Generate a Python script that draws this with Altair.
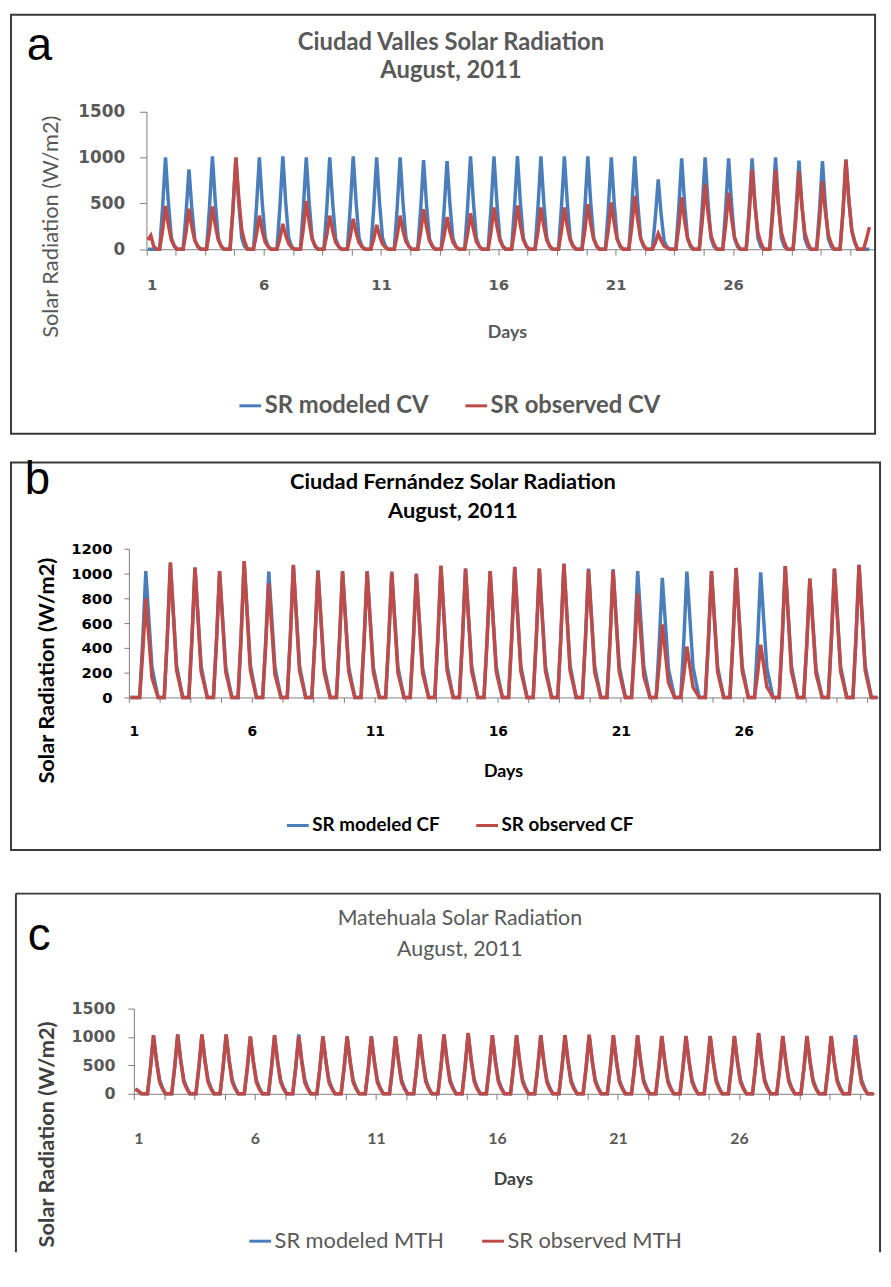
import altair as alt
import pandas as pd

BLUE = "#4A7EBB"
RED = "#BE4B48"
POINTS_PER_DAY = 8
DAY_LABELS = [1, 6, 11, 16, 21, 26]

# ---------------- Panel a : Ciudad Valles (3-hourly values, W/m2) ----------------
CV_MODELED = [
    0, 0, 0, 0,
    0, 450, 1000, 500, 120, 30, 0, 0,
    0, 390, 870, 435, 105, 25, 0, 0,
    0, 455, 1010, 505, 120, 30, 0, 0,
    0, 445, 990, 495, 120, 30, 0, 0,
    0, 450, 1000, 500, 120, 30, 0, 0,
    0, 455, 1010, 505, 120, 30, 0, 0,
    0, 450, 1000, 500, 120, 30, 0, 0,
    0, 445, 1000, 505, 115, 30, 0, 0,
    0, 455, 1010, 505, 120, 30, 0, 0,
    0, 450, 1000, 500, 120, 30, 0, 0,
    0, 450, 1000, 495, 120, 30, 0, 0,
    0, 435, 970, 485, 115, 30, 0, 0,
    0, 430, 960, 480, 115, 30, 0, 0,
    0, 455, 1010, 505, 120, 30, 0, 0,
    0, 455, 1010, 505, 120, 30, 0, 0,
    0, 460, 1015, 510, 120, 30, 0, 0,
    0, 455, 1010, 505, 120, 30, 0, 0,
    0, 455, 1010, 505, 120, 30, 0, 0,
    0, 455, 1010, 500, 120, 30, 0, 0,
    0, 450, 1000, 500, 120, 30, 0, 0,
    0, 455, 1010, 505, 120, 30, 0, 0,
    0, 340, 760, 380, 90, 25, 0, 0,
    0, 445, 990, 495, 120, 30, 0, 0,
    0, 450, 1000, 500, 120, 30, 0, 0,
    0, 445, 990, 495, 120, 30, 0, 0,
    0, 445, 990, 495, 120, 30, 0, 0,
    0, 450, 1000, 500, 120, 30, 0, 0,
    0, 435, 965, 480, 115, 30, 0, 0,
    0, 430, 960, 480, 115, 30, 0, 0,
    0, 410, 975, 535, 205, 80, 0, 0,
    0, 0, 0,
]
CV_OBSERVED = [
    100, 150, 30, 0,
    0, 200, 470, 260, 100, 40, 0, 0,
    0, 185, 440, 240, 90, 35, 0, 0,
    0, 195, 465, 255, 100, 35, 0, 0,
    0, 420, 1000, 550, 210, 80, 0, 0,
    0, 155, 365, 200, 75, 30, 0, 0,
    0, 115, 275, 150, 60, 20, 0, 0,
    0, 220, 525, 290, 110, 40, 0, 0,
    0, 155, 365, 200, 75, 30, 0, 0,
    0, 140, 330, 180, 70, 25, 0, 0,
    0, 110, 265, 145, 55, 20, 0, 0,
    0, 150, 365, 200, 80, 30, 0, 0,
    0, 180, 435, 240, 90, 35, 0, 0,
    0, 145, 350, 190, 75, 30, 0, 0,
    0, 165, 390, 215, 80, 30, 0, 0,
    0, 190, 455, 250, 95, 35, 0, 0,
    0, 200, 475, 260, 100, 40, 0, 0,
    0, 190, 455, 250, 95, 35, 0, 0,
    0, 195, 455, 245, 95, 35, 0, 0,
    0, 205, 490, 270, 105, 40, 0, 0,
    0, 215, 510, 280, 105, 40, 0, 0,
    0, 245, 580, 320, 120, 45, 0, 0,
    0, 70, 170, 95, 35, 15, 0, 0,
    0, 235, 565, 310, 120, 45, 0, 0,
    0, 295, 705, 390, 150, 55, 0, 0,
    0, 260, 615, 340, 130, 50, 0, 0,
    0, 365, 865, 475, 180, 70, 0, 0,
    0, 360, 865, 475, 180, 70, 0, 0,
    0, 355, 850, 470, 180, 70, 0, 0,
    0, 310, 740, 405, 155, 60, 0, 0,
    0, 410, 975, 535, 205, 80, 0, 0,
    0, 110, 240,
]

# ---------------- Panel b : Ciudad Fernandez ----------------
CF_MODELED = [
    0, 0, 0,
    0, 460, 1020, 630, 245, 120, 0, 0,
    0, 485, 1080, 670, 260, 130, 0, 0,
    0, 470, 1045, 650, 250, 125, 0, 0,
    0, 455, 1015, 630, 245, 120, 0, 0,
    0, 490, 1095, 680, 265, 130, 0, 0,
    0, 455, 1015, 630, 245, 120, 0, 0,
    0, 480, 1065, 660, 255, 130, 0, 0,
    0, 460, 1025, 635, 245, 125, 0, 0,
    0, 460, 1020, 630, 245, 120, 0, 0,
    0, 460, 1020, 630, 245, 120, 0, 0,
    0, 455, 1015, 630, 245, 120, 0, 0,
    0, 450, 1000, 620, 240, 120, 0, 0,
    0, 475, 1060, 655, 255, 125, 0, 0,
    0, 470, 1040, 645, 250, 125, 0, 0,
    0, 460, 1020, 630, 245, 120, 0, 0,
    0, 470, 1050, 650, 250, 125, 0, 0,
    0, 470, 1040, 645, 250, 125, 0, 0,
    0, 485, 1075, 665, 260, 130, 0, 0,
    0, 470, 1040, 645, 250, 125, 0, 0,
    0, 465, 1035, 640, 250, 125, 0, 0,
    0, 460, 1020, 630, 245, 120, 0, 0,
    0, 435, 965, 600, 230, 115, 0, 0,
    0, 455, 1015, 630, 245, 120, 0, 0,
    0, 460, 1020, 630, 245, 120, 0, 0,
    0, 470, 1045, 650, 250, 125, 0, 0,
    0, 455, 1010, 625, 240, 120, 0, 0,
    0, 475, 1060, 655, 255, 125, 0, 0,
    0, 430, 960, 595, 230, 115, 0, 0,
    0, 470, 1040, 645, 250, 125, 0, 0,
    0, 480, 1070, 665, 255, 130, 0, 0,
    0,
]
CF_OBSERVED = [
    0, 0, 0,
    0, 360, 800, 480, 160, 80, 0, 0,
    0, 490, 1090, 655, 220, 110, 0, 0,
    0, 470, 1050, 630, 210, 105, 0, 0,
    0, 460, 1020, 610, 205, 100, 0, 0,
    0, 495, 1100, 660, 220, 110, 0, 0,
    0, 415, 920, 550, 185, 90, 0, 0,
    0, 480, 1070, 640, 215, 105, 0, 0,
    0, 460, 1020, 610, 205, 100, 0, 0,
    0, 455, 1015, 610, 205, 100, 0, 0,
    0, 455, 1015, 610, 205, 100, 0, 0,
    0, 455, 1010, 605, 200, 100, 0, 0,
    0, 450, 995, 595, 200, 100, 0, 0,
    0, 480, 1065, 640, 215, 105, 0, 0,
    0, 470, 1040, 625, 210, 105, 0, 0,
    0, 460, 1020, 610, 205, 100, 0, 0,
    0, 475, 1055, 635, 210, 105, 0, 0,
    0, 470, 1040, 625, 210, 105, 0, 0,
    0, 485, 1080, 650, 215, 110, 0, 0,
    0, 465, 1030, 620, 205, 105, 0, 0,
    0, 460, 1025, 615, 205, 100, 0, 0,
    0, 380, 840, 505, 170, 85, 0, 0,
    0, 265, 590, 355, 120, 60, 0, 0,
    0, 185, 410, 245, 80, 40, 0, 0,
    0, 460, 1020, 610, 205, 100, 0, 0,
    0, 470, 1045, 625, 210, 105, 0, 0,
    0, 190, 425, 255, 85, 45, 0, 0,
    0, 475, 1060, 635, 210, 105, 0, 0,
    0, 430, 960, 575, 190, 95, 0, 0,
    0, 470, 1040, 625, 210, 105, 0, 0,
    0, 480, 1070, 640, 215, 105, 0, 0,
    0,
]

# ---------------- Panel c : Matehuala ----------------
MTH_MODELED = [
    80, 50, 0, 0,
    0, 460, 1020, 580, 245, 100, 0, 0,
    0, 470, 1040, 595, 250, 105, 0, 0,
    0, 470, 1040, 595, 250, 105, 0, 0,
    0, 470, 1040, 595, 250, 105, 0, 0,
    0, 450, 1005, 575, 240, 100, 0, 0,
    0, 460, 1025, 585, 245, 105, 0, 0,
    0, 470, 1045, 595, 250, 105, 0, 0,
    0, 455, 1010, 575, 240, 100, 0, 0,
    0, 455, 1010, 575, 240, 100, 0, 0,
    0, 455, 1010, 575, 240, 100, 0, 0,
    0, 455, 1010, 575, 240, 100, 0, 0,
    0, 470, 1040, 595, 250, 105, 0, 0,
    0, 470, 1040, 595, 250, 105, 0, 0,
    0, 480, 1065, 605, 255, 105, 0, 0,
    0, 460, 1025, 585, 245, 105, 0, 0,
    0, 460, 1025, 585, 245, 105, 0, 0,
    0, 460, 1025, 585, 245, 105, 0, 0,
    0, 460, 1025, 585, 245, 105, 0, 0,
    0, 465, 1035, 590, 250, 105, 0, 0,
    0, 460, 1025, 585, 245, 105, 0, 0,
    0, 460, 1025, 585, 245, 105, 0, 0,
    0, 455, 1015, 580, 245, 100, 0, 0,
    0, 455, 1015, 580, 245, 100, 0, 0,
    0, 455, 1015, 580, 245, 100, 0, 0,
    0, 455, 1015, 580, 245, 100, 0, 0,
    0, 480, 1065, 605, 255, 105, 0, 0,
    0, 455, 1015, 580, 245, 100, 0, 0,
    0, 455, 1015, 580, 245, 100, 0, 0,
    0, 455, 1015, 580, 245, 100, 0, 0,
    0, 465, 1030, 585, 245, 105, 0, 0,
    0,
]
MTH_OBSERVED = [
    85, 45, 0, 0,
    0, 465, 1030, 565, 205, 80, 0, 0,
    0, 470, 1045, 575, 210, 85, 0, 0,
    0, 470, 1045, 575, 210, 85, 0, 0,
    0, 470, 1045, 575, 210, 85, 0, 0,
    0, 455, 1010, 555, 200, 80, 0, 0,
    0, 465, 1030, 565, 205, 80, 0, 0,
    0, 455, 1010, 555, 200, 80, 0, 0,
    0, 455, 1010, 555, 200, 80, 0, 0,
    0, 455, 1010, 555, 200, 80, 0, 0,
    0, 455, 1010, 555, 200, 80, 0, 0,
    0, 455, 1010, 555, 200, 80, 0, 0,
    0, 470, 1045, 575, 210, 85, 0, 0,
    0, 470, 1045, 575, 210, 85, 0, 0,
    0, 480, 1070, 590, 215, 85, 0, 0,
    0, 465, 1030, 565, 205, 80, 0, 0,
    0, 465, 1030, 565, 205, 80, 0, 0,
    0, 465, 1030, 565, 205, 80, 0, 0,
    0, 465, 1030, 565, 205, 80, 0, 0,
    0, 470, 1040, 570, 210, 85, 0, 0,
    0, 465, 1030, 565, 205, 80, 0, 0,
    0, 465, 1030, 565, 205, 80, 0, 0,
    0, 460, 1020, 560, 205, 80, 0, 0,
    0, 460, 1020, 560, 205, 80, 0, 0,
    0, 460, 1020, 560, 205, 80, 0, 0,
    0, 460, 1020, 560, 205, 80, 0, 0,
    0, 480, 1070, 590, 215, 85, 0, 0,
    0, 460, 1020, 560, 205, 80, 0, 0,
    0, 460, 1020, 560, 205, 80, 0, 0,
    0, 460, 1020, 560, 205, 80, 0, 0,
    0, 445, 985, 540, 195, 80, 0, 0,
    0,
]

TOTAL_W = 883
TOTAL_H = 1250
ONE = pd.DataFrame({"k": [0]})
FRAME_COLOR = "#3a3a3a"
AXIS_COLOR = "#808080"


def series_frame(values, name):
    return pd.DataFrame({
        "pos": [i + 0.5 for i in range(len(values))],
        "value": values,
        "series": [name] * len(values),
    })


def day_label_expr():
    parts = []
    for d in DAY_LABELS:
        parts.append("datum.value == %d ? '%d' : " % ((d - 1) * POINTS_PER_DAY, d))
    return "".join(parts) + "''"


def text(txt, x, y, size, color, font="Lato", weight="normal", angle=0,
         align="center", baseline="middle"):
    kw = dict(font=font, fontSize=size, color=color, fontWeight=weight,
              align=align, baseline=baseline)
    if angle:
        kw["angle"] = angle
    return alt.Chart(ONE).mark_text(**kw).encode(
        x=alt.value(x), y=alt.value(y), text=alt.value(txt))


def rule(x0, y0, x1=None, y1=None):
    enc = dict(x=alt.value(x0), y=alt.value(y0))
    if x1 is not None:
        enc["x2"] = alt.value(x1)
    if y1 is not None:
        enc["y2"] = alt.value(y1)
    return alt.Chart(ONE).mark_rule(stroke=FRAME_COLOR, strokeWidth=2).encode(**enc)


def box(x0, x1, y0, y1):
    return alt.Chart(ONE).mark_rect(filled=False, stroke=FRAME_COLOR,
                                    strokeWidth=2).encode(
        x=alt.value(x0), x2=alt.value(x1), y=alt.value(y0), y2=alt.value(y1))


def panel(p):
    names = p["names"]
    x0, x1, yt, yb = p["plot"]
    color = alt.Color(
        "series:N",
        scale=alt.Scale(domain=names, range=[BLUE, RED]),
        legend=alt.Legend(
            orient="none", legendX=p["legx"], legendY=p["legy"],
            direction="horizontal", title=None, symbolType="stroke",
            symbolStrokeWidth=3, symbolSize=p["symsize"],
            labelFont="Lato", labelFontSize=p["legsize"],
            labelFontWeight=p["legweight"], labelColor=p["legcolor"],
            labelLimit=600, labelOffset=2, columnPadding=p["colpad"],
            padding=0),
    )
    n = p["n"]
    x = alt.X(
        "pos:Q",
        scale=alt.Scale(domain=[0, n], range=[x0, x1], nice=False, zero=False),
        axis=alt.Axis(
            orient="bottom", offset=yb - TOTAL_H,
            values=list(range(0, n + 1, 10)), labelExpr=day_label_expr(),
            tickSize=p["xtick"], labelPadding=p["xpad"], grid=False,
            domainColor=AXIS_COLOR, tickColor=AXIS_COLOR,
            labelFont=p["xfont"], labelFontSize=p["xsize"],
            labelFontWeight=p["xweight"], labelColor=p["numcolor"],
            labelOverlap=False, labelBaseline="top"),
        title=None,
    )
    y = alt.Y(
        "value:Q",
        scale=alt.Scale(domain=[0, p["ymax"]], range=[yb, yt], nice=False),
        axis=alt.Axis(
            orient="left", offset=-x0, format="d",
            values=list(range(0, p["ymax"] + 1, p["ystep"])),
            tickSize=p["ytick"], labelPadding=p["ypad"], grid=False,
            domainColor=AXIS_COLOR, tickColor=AXIS_COLOR,
            labelFont=p["yfont"], labelFontSize=p["ysize"],
            labelFontWeight=p["yweight"], labelColor=p["numcolor"]),
        title=None,
    )
    blue = alt.Chart(series_frame(p["modeled"], names[0])).mark_line(
        strokeWidth=3.5).encode(x=x, y=y, color=color)
    red = alt.Chart(series_frame(p["observed"], names[1])).mark_line(
        strokeWidth=3.5).encode(x=x, y=y, color=color)
    lines = alt.layer(blue, red)

    deco = list(p["frame"])
    deco.append(text(p["letter"], p["letter_xy"][0], p["letter_xy"][1], 46,
                     "#000000", font="Liberation Sans", align="left",
                     baseline="alphabetic"))
    tx, ty1, ty2 = p["title_xy"]
    deco.append(text(p["title"][0], tx, ty1, p["title_size"], p["title_color"],
                     weight=p["title_weight"], baseline="alphabetic"))
    deco.append(text(p["title"][1], tx, ty2, p["title_size"], p["title_color"],
                     weight=p["title_weight"], baseline="alphabetic"))
    deco.append(text("Solar Radiation (W/m2)", p["ytitle_xy"][0],
                     p["ytitle_xy"][1], p["ytitle_size"], p["ytitle_color"],
                     weight=p["ytitle_weight"], angle=270))
    deco.append(text("Days", p["days_xy"][0], p["days_xy"][1],
                     p["days_size"], p["days_color"], weight="bold"))
    return lines, deco


PA = dict(
    names=["SR modeled CV", "SR observed CV"], modeled=CV_MODELED,
    observed=CV_OBSERVED, n=248, ymax=1500, ystep=500,
    plot=(139.7, 873.7, 98.7, 237.7),
    frame=[box(3, 875, 1, 424)],
    letter="a", letter_xy=(19, 47),
    title=["Ciudad Valles Solar Radiation", "August, 2011"],
    title_xy=(447, 37, 65),
    title_size=24, title_color="#595959", title_weight="bold",
    ytitle_xy=(43, 215), ytitle_size=22, ytitle_color="#595959",
    ytitle_weight="normal", days_xy=(504, 322), days_size=18,
    days_color="#595959", numcolor="#595959",
    xfont="DejaVu Sans", xsize=15, xweight="bold",
    yfont="DejaVu Sans", ysize=17, yweight="bold",
    xtick=6, xpad=23, ytick=7, ypad=15,
    legx=232, legy=383, symsize=484, legsize=24,
    legweight="bold", legcolor="#595959", colpad=30,
)
PB = dict(
    names=["SR modeled CF", "SR observed CF"], modeled=CF_MODELED,
    observed=CF_OBSERVED, n=244, ymax=1200, ystep=200,
    plot=(122, 879, 540, 690),
    frame=[box(3, 880, 453, 844)],
    letter="b", letter_xy=(17, 485),
    title=["Ciudad Fernández Solar Radiation", "August, 2011"],
    title_xy=(449, 480, 509), title_size=22, title_color="#000000",
    title_weight="bold",
    ytitle_xy=(39, 663), ytitle_size=22, ytitle_color="#000000",
    ytitle_weight="bold", days_xy=(500, 765), days_size=18,
    days_color="#000000", numcolor="#000000",
    xfont="DejaVu Sans", xsize=14, xweight="bold",
    yfont="DejaVu Sans", ysize=15, yweight="bold",
    xtick=5, xpad=22, ytick=5, ypad=12,
    legx=280, legy=806.5, symsize=484, legsize=19,
    legweight="bold", legcolor="#000000", colpad=30,
)
PC = dict(
    names=["SR modeled MTH", "SR observed MTH"], modeled=MTH_MODELED,
    observed=MTH_OBSERVED, n=245, ymax=1500, ystep=500,
    plot=(127, 875, 1004, 1090),
    frame=[rule(8, 888, y1=1250), rule(880, 888, y1=1250),
           rule(8, 888, x1=880)],
    letter="c", letter_xy=(20, 945),
    title=["Matehuala Solar Radiation", "August, 2011"],
    title_xy=(456, 920, 951),
    title_size=21.5, title_color="#595959", title_weight="normal",
    ytitle_xy=(39, 1131), ytitle_size=22, ytitle_color="#404040",
    ytitle_weight="bold", days_xy=(510, 1177), days_size=18,
    days_color="#404040", numcolor="#595959",
    xfont="Lato", xsize=16, xweight="bold",
    yfont="DejaVu Sans", ysize=16, yweight="bold",
    xtick=6, xpad=31, ytick=6, ypad=13,
    legx=242, legy=1226, symsize=484, legsize=22,
    legweight="normal", legcolor="#595959", colpad=32,
)

all_lines = []
all_deco = []
for p in (PA, PB, PC):
    lines, deco = panel(p)
    all_lines.append(lines)
    all_deco.extend(deco)

chart = alt.layer(*all_deco, *all_lines).resolve_scale(
    x="independent", y="independent", color="independent"
).properties(
    width=TOTAL_W, height=TOTAL_H, padding=0,
    autosize=alt.AutoSizeParams(type="none"),
).configure_view(strokeWidth=0)

chart.save("out.html", embed_options={"renderer": "svg", "actions": False})
